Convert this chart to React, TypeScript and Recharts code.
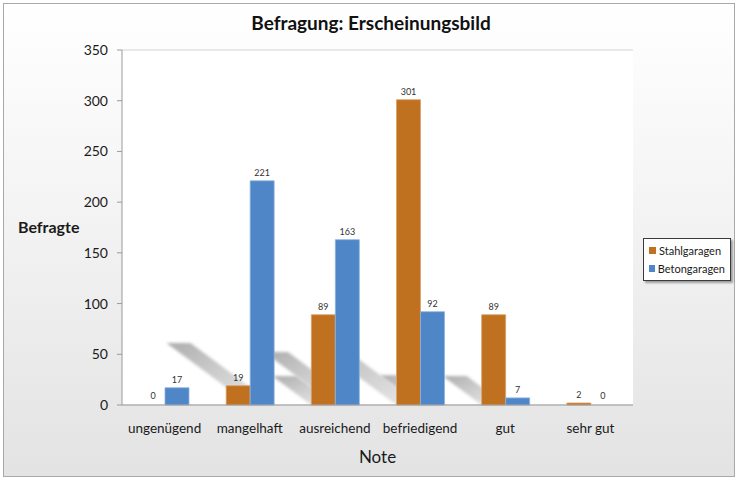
import React from 'react'
import { BarChart, Bar, XAxis, YAxis, CartesianGrid, Legend, LabelList, Label, Rectangle } from 'recharts'

const categories = ['ungenügend', 'mangelhaft', 'ausreichend', 'befriedigend', 'gut', 'sehr gut']
const stahlValues = [0, 19, 89, 301, 89, 2]
const betonValues = [17, 221, 163, 92, 7, 0]
const yTicks = [0, 50, 100, 150, 200, 250, 300, 350]
const seriesNames = ['Stahlgaragen', 'Betongaragen']

const data = categories.map((name, i) => ({
  name,
  stahl: stahlValues[i],
  beton: betonValues[i],
}))

const W = 740
const H = 481
const FONT = 'Lato, "Noto Sans", sans-serif'
const margin = { top: 50, right: 107, bottom: 6, left: 18 }
const ORANGE = '#C0711F'
const BLUE = '#4F86C7'

// perspective shadow drawn behind every bar
function ShadowShape(props: any) {
  const { x, y, width, height } = props
  if (!height || height < 20) return <g />
  const base = y + height
  const dy = Math.min(height * 0.32, 62)
  const dx = dy * 1.35
  const pts = `${x},${base} ${x + width},${base} ${x + width - dx},${base - dy} ${x - dx},${base - dy}`
  return <polygon points={pts} fill="url(#shadowGrad)" filter="url(#shadowBlur)" />
}

// zero values keep a 1px slot so the label still shows, but no bar is drawn
function makeBarShape(key: 'stahl' | 'beton') {
  return (props: any) => {
    if (!props.payload || props.payload[key] === 0) return <g />
    return <Rectangle {...props} />
  }
}

function renderLegend(props: any) {
  const { payload } = props
  const items = seriesNames
    .map((n) => (payload || []).find((p: any) => p.value === n))
    .filter(Boolean)
  return (
    <div
      style={{
        width: 76,
        background: '#fff',
        border: '1px solid #3a3a3a',
        boxShadow: '2px 2px 2px rgba(0,0,0,0.35)',
        padding: '2px 5px 2px 5px',
        fontFamily: FONT,
        fontSize: 11,
        color: '#1a1a1a',
        whiteSpace: 'nowrap',
      }}
    >
      {items.map((entry: any) => (
        <div key={entry.value} style={{ display: 'flex', alignItems: 'center', height: 18.5 }}>
          <span style={{ width: 7, height: 7, background: entry.color, marginRight: 3, display: 'inline-block' }} />
          {entry.value}
        </div>
      ))}
    </div>
  )
}

export default function App() {
  return (
    <div style={{ position: 'relative', width: W, height: H }}>
      <style>{`body{margin:0}`}</style>
      {/* outer frame */}
      <div
        style={{
          position: 'absolute',
          left: 3,
          top: 3,
          width: 730,
          height: 472,
          border: '1px solid #a9a9a9',
          background: 'linear-gradient(to bottom, #ffffff 0%, #f6f6f6 35%, #e3e3e3 100%)',
        }}
      />
      {/* layer 1: plot background, grid, shadows */}
      <div style={{ position: 'absolute', left: 0, top: 0 }}>
        <BarChart width={W} height={H} data={data} margin={margin} barGap={0} barSize={24}>
          <defs>
            <linearGradient id="shadowGrad" x1="0" y1="0" x2="1" y2="1">
              <stop offset="0%" stopColor="#a8a8a8" stopOpacity={0.95} />
              <stop offset="100%" stopColor="#c0c0c0" stopOpacity={0.35} />
            </linearGradient>
            <filter id="shadowBlur" x="-20%" y="-20%" width="140%" height="140%">
              <feGaussianBlur stdDeviation="1.6" />
            </filter>
          </defs>
          <CartesianGrid vertical={false} fill="#ffffff" stroke="#e2e2e2" strokeWidth={1.5} />
          <XAxis dataKey="name" height={70} tick={false} axisLine={false} tickLine={false} />
          <YAxis width={104} domain={[0, 350]} ticks={yTicks} tick={false} axisLine={false} tickLine={false} />
          <Bar dataKey="stahl" fill="none" shape={<ShadowShape />} isAnimationActive={false} />
          <Bar dataKey="beton" fill="none" shape={<ShadowShape />} isAnimationActive={false} />
        </BarChart>
      </div>
      {/* layer 2: axes, bars, labels, legend */}
      <div style={{ position: 'absolute', left: 0, top: 0 }}>
        <BarChart width={W} height={H} data={data} margin={margin} barGap={0} barSize={24}>
          <XAxis
            dataKey="name"
            height={70}
            stroke="#9a9a9a"
            tickLine={false}
            tickSize={6}
            tickMargin={12}
            tick={{ fontSize: 13.5, fill: '#1a1a1a', fontFamily: FONT }}
          >
            <Label value="Note" position="insideBottom" offset={12} style={{ fontSize: 17, fill: '#1a1a1a', fontFamily: FONT }} />
          </XAxis>
          <YAxis
            width={104}
            domain={[0, 350]}
            ticks={yTicks}
            stroke="#9a9a9a"
            tickSize={5}
            tickMargin={9}
            tick={{ fontSize: 14, fill: '#1a1a1a', fontFamily: FONT }}
          >
            <Label
              value="Befragte"
              position="insideLeft"
              offset={0}
              angle={0}
              style={{ fontSize: 16, fontWeight: 'bold', fill: '#1a1a1a', fontFamily: FONT, textAnchor: 'start' }}
            />
          </YAxis>
          <Legend
            layout="vertical"
            align="center"
            verticalAlign="middle"
            content={renderLegend}
            wrapperStyle={{ left: 643, top: 238, width: 'auto' }}
          />
          <Bar
            dataKey="stahl"
            name="Stahlgaragen"
            fill={ORANGE}
            stroke="#d9a26d"
            strokeWidth={0.8}
            minPointSize={1}
            shape={makeBarShape('stahl')}
            isAnimationActive={false}
          >
            <LabelList dataKey="stahl" position="top" offset={5} style={{ fontSize: 9, fill: '#333', fontFamily: FONT }} />
          </Bar>
          <Bar
            dataKey="beton"
            name="Betongaragen"
            fill={BLUE}
            stroke="#8fb2de"
            strokeWidth={0.8}
            minPointSize={1}
            shape={makeBarShape('beton')}
            isAnimationActive={false}
          >
            <LabelList dataKey="beton" position="top" offset={5} style={{ fontSize: 9, fill: '#333', fontFamily: FONT }} />
          </Bar>
        </BarChart>
      </div>
      <div
        style={{
          position: 'absolute',
          left: 0,
          top: 11,
          width: 742,
          textAlign: 'center',
          fontFamily: FONT,
          fontWeight: 'bold',
          fontSize: 19,
          color: '#111',
        }}
      >
        Befragung: Erscheinungsbild
      </div>
    </div>
  )
}
